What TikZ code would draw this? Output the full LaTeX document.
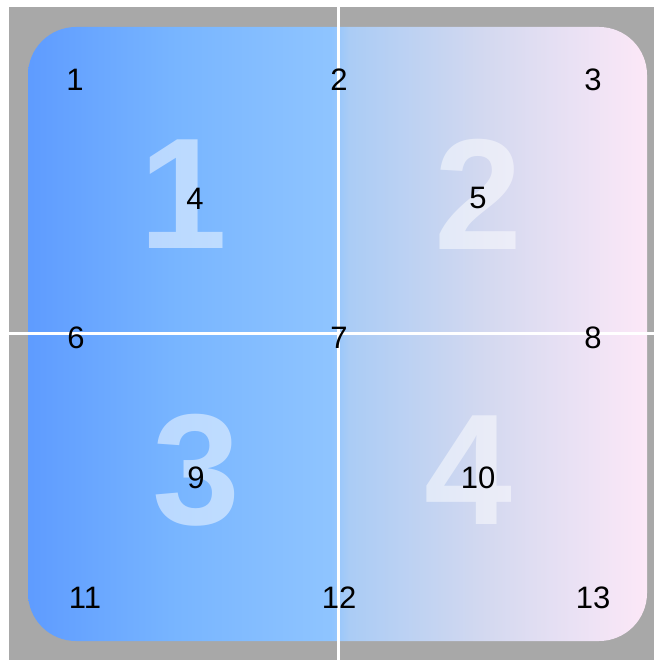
\documentclass[tikz,border=0pt]{standalone}
\usepackage{fontspec}
\setmainfont{Liberation Sans}
\usetikzlibrary{positioning}

% blue to pink, left to right
\pgfdeclarehorizontalshading{tilefade}{100bp}{%
  rgb(0bp)=(0.37,0.61,1.00); rgb(25bp)=(0.37,0.61,1.00);
  rgb(37bp)=(0.47,0.71,1.00); rgb(49.5bp)=(0.56,0.77,1.00);
  rgb(51bp)=(0.67,0.80,0.96); rgb(62bp)=(0.83,0.85,0.94);
  rgb(75bp)=(0.99,0.91,0.97); rgb(100bp)=(0.99,0.91,0.97)}
\definecolor{frame}{RGB}{168,168,168}

\begin{document}
\begin{tikzpicture}[
    x=1pt, y=-1pt,
    corner/.style={font=\fontsize{31}{31}\selectfont, inner sep=0pt, text=black},
    bignum/.style={font=\fontsize{158}{158}\selectfont\bfseries, inner sep=0pt,
      text=white, text opacity=0.5},
    cutline/.style={draw=white, line width=3pt},
  ]
  \useasboundingbox (0,0) rectangle (654,660);
  \fill[frame] (9,7) rectangle (654,660);
  \path[shading=tilefade, rounded corners=48pt] (28,27) rectangle (647,641);

  \draw[cutline] (338,7) -- (338,660);
  \draw[cutline] (9,333) -- (654,333);

  \node[bignum] (q1) at (183,194) {1};
  \node[bignum] (q2) at (478,194) {2};
  \node[bignum] (q3) at (196,470) {3};
  \node[bignum] (q4) at (468,470) {4};

  \node[corner] (p1)  at (75,80)   {1};
  \node[corner] (p2)  at (339,80)  {2};
  \node[corner] (p3)  at (593,80)  {3};
  \node[corner] (p4)  at (195,199) {4};
  \node[corner] (p5)  at (478,198) {5};
  \node[corner] (p6)  at (76,338)  {6};
  \node[corner] (p7)  at (339,338) {7};
  \node[corner] (p8)  at (593,338) {8};
  \node[corner] (p9)  at (196,478) {9};
  \node[corner] (p10) at (478,478) {10};
  \node[corner] (p11) at (85,598)  {11};
  \node[corner] (p12) at (339,598) {12};
  \node[corner] (p13) at (593,598) {13};
\end{tikzpicture}
\end{document}
